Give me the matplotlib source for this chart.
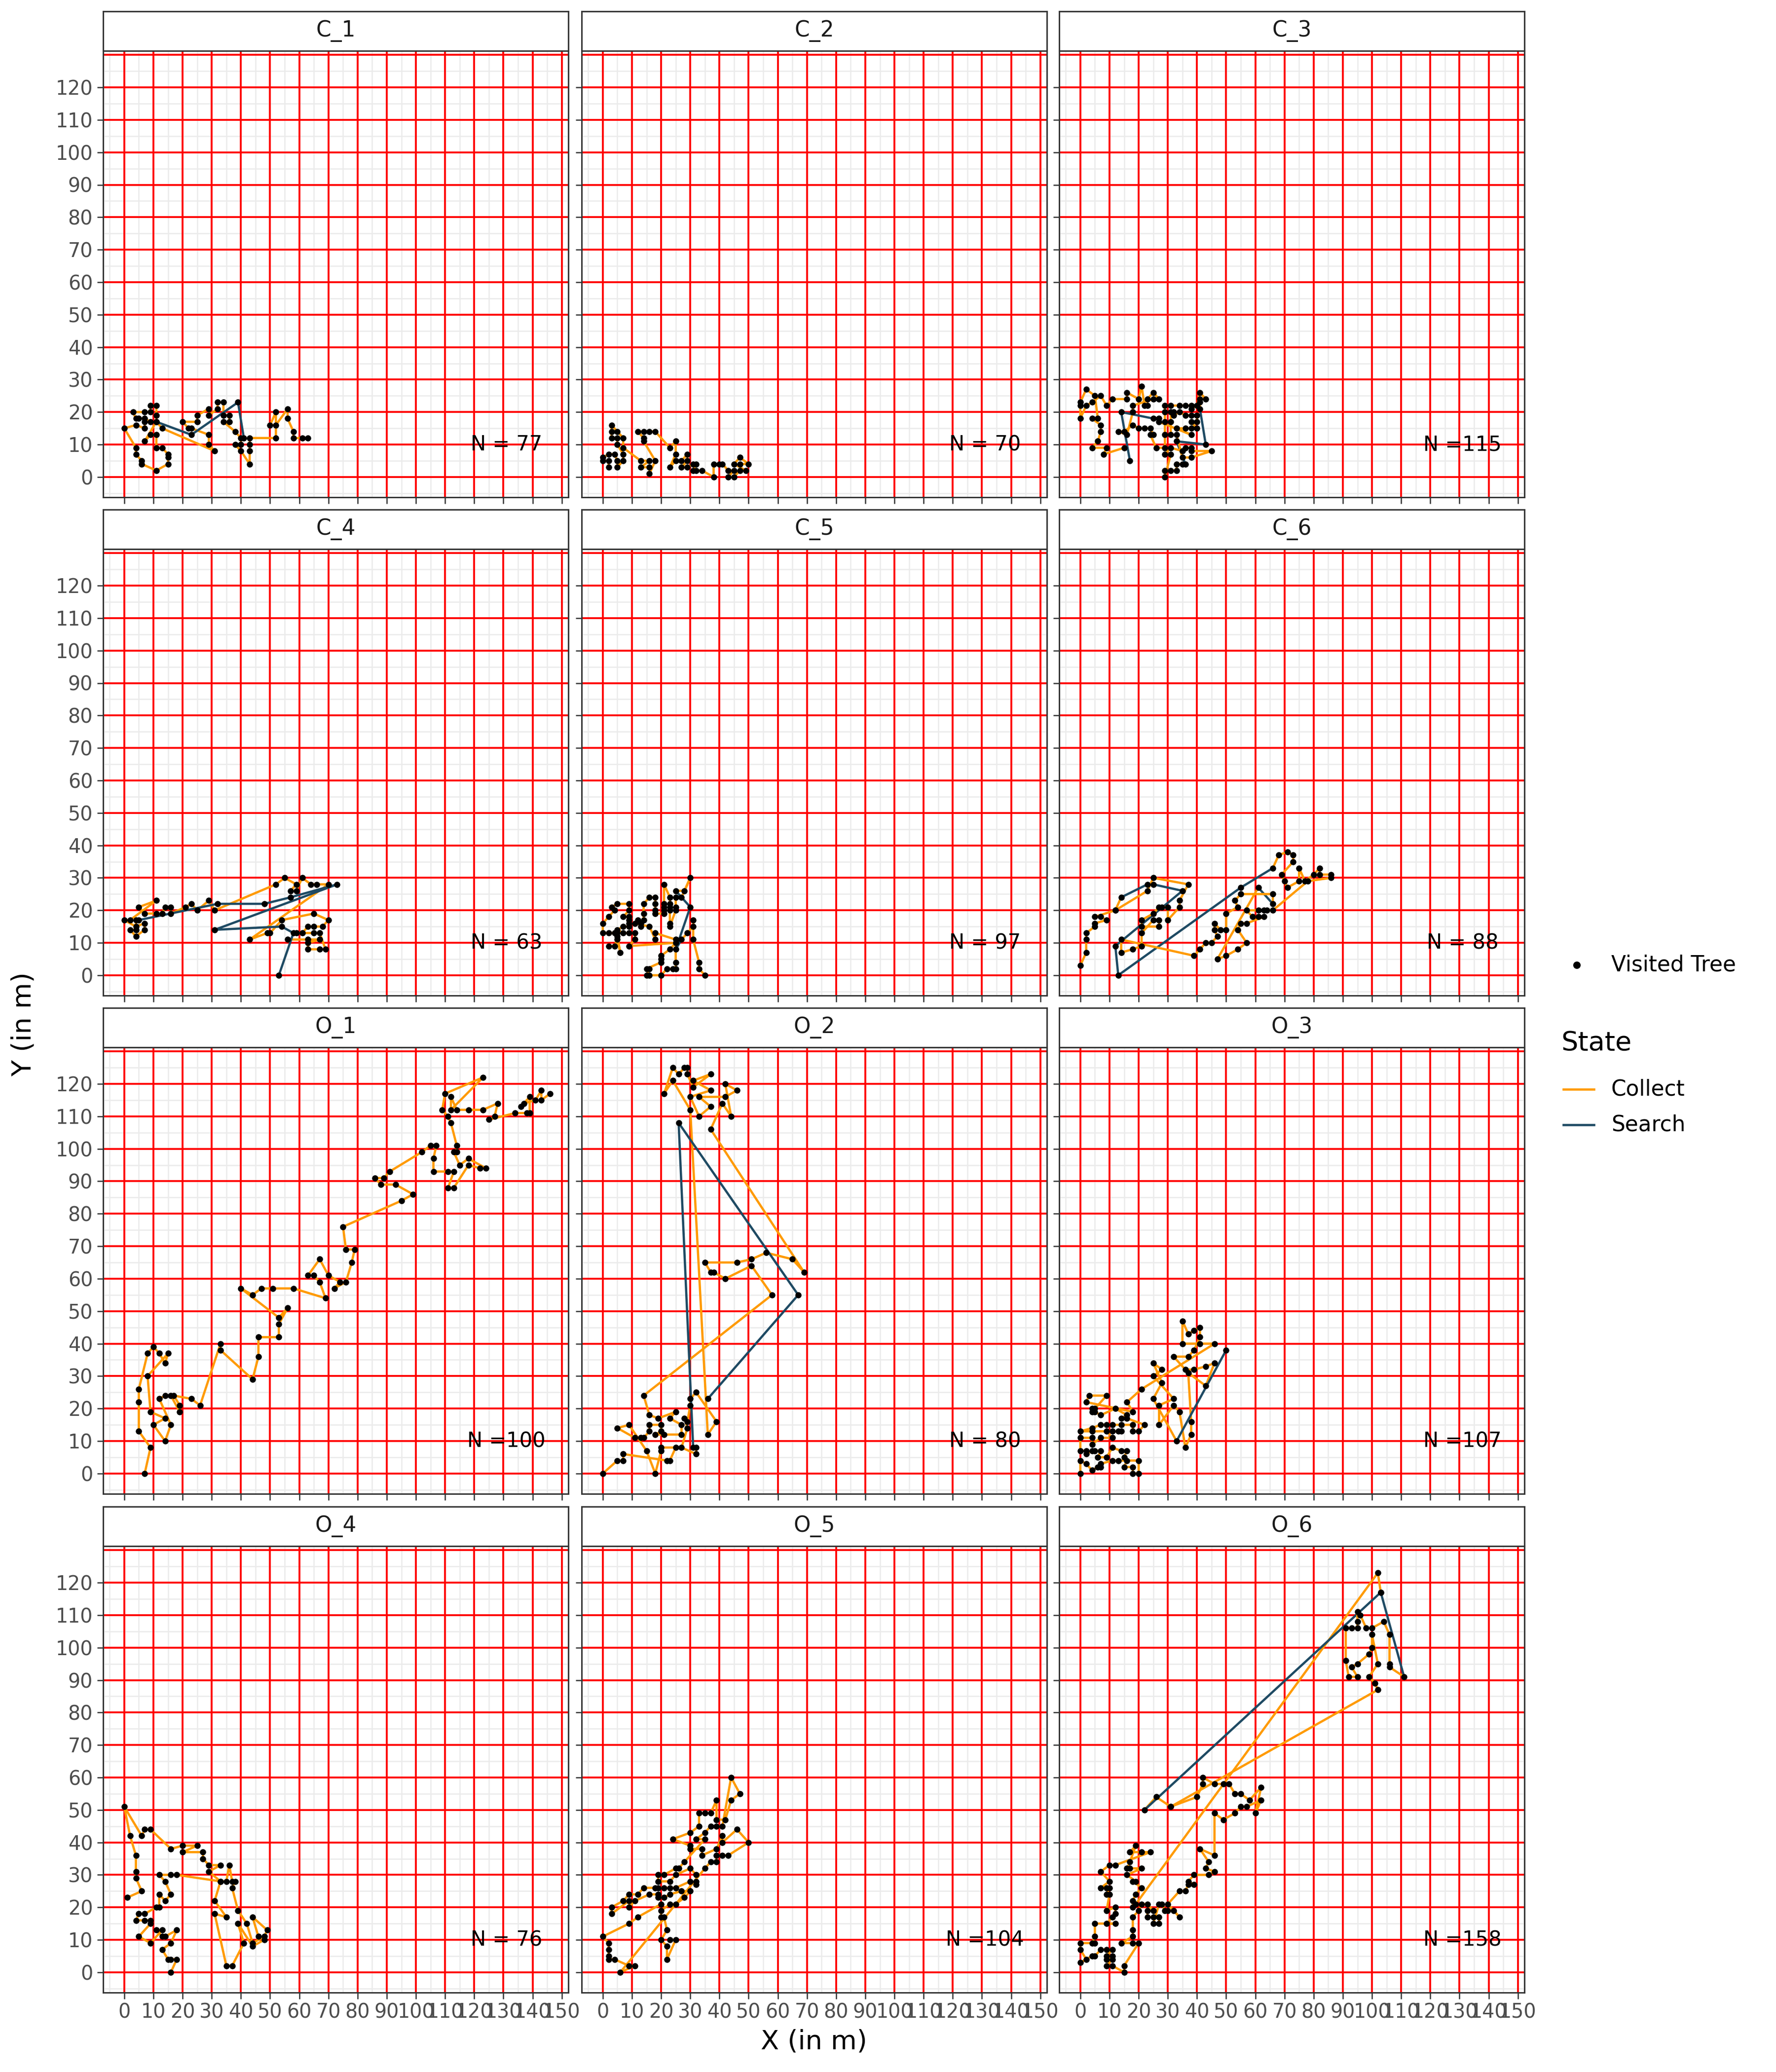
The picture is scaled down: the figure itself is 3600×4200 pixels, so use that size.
import matplotlib
matplotlib.use("Agg")
import matplotlib.pyplot as plt
from matplotlib.patches import Rectangle
from matplotlib.lines import Line2D
import numpy as np

plt.rcParams['font.family'] = ['DejaVu Sans']

# ---------------- data: visited trees in visiting order (x, y[, 'S' = search step]) -------------
C1 = [(63,12),(61,12),(58,12),(58,14),(56,18),(56,21),(52,16),(50,16),(52,20),(52,12),(43,12),(43,10),
      (43,8),(43,4),(40,8),(38,10),(40,10),(40,12),(38,14),(34,17),(36,17),(36,19),(34,19),(34,23),(32,23),
      (32,21),(29,19),(29,21),(25,19),(25,17),(20,17),(22,15),(23,15),(29,13),(29,10),(31,8),(13,15),(11,17),
      (7,11),(9,13),(11,13),(11,9),(13,9),(15,7),(15,6),(15,4),(11,2),(6,4),(6,5),(4,7),(4,9),(0,15),(4,16),
      (7,15),(7,17),(9,17),(7,18),(5,18),(4,18),(3,20),(7,20),(9,20),(9,22),(11,22),(11,19),
      (11,17,'S'),(23,13,'S'),(39,23,'S'),(41,12)]

C2 = [(2,3),(2,5),(0,5),(0,6),(2,7),(4,7),(5,5),(5,3),(7,5),(7,7),(5,10),(5,12),(3,12),(3,14),(3,16),(5,14),
      (7,12),(7,9),(13,5),(16,5),(13,3),(16,3),(16,1),(18,5),(14,11),(14,12),(12,14),(14,14),(16,14),(18,14),
      (23,9),(25,11),(25,7),(23,3),(25,5),(27,5),(29,7),(29,5),(27,3),(29,3),(31,4),(32,4),(31,2),(32,2),(34,2),
      (38,0),(38,4),(40,4),(41,4),(43,2),(45,2),(43,0),(45,0),(47,2),(49,2),(45,4),(47,6),(50,4),(47,4)]

C3 = [(15,9),(8,7),(9,9),(4,9),(6,11),(7,14),(7,16),(4,18),(6,18),(5,25),(2,27),(0,23),(0,22),(0,18),(2,22),
      (4,23),(7,25),(9,22),(11,24),(16,24),(16,26),(20,24),(21,28),(22,22),(23,22),(23,24),(25,26),(27,24),
      (25,24),(18,22),(18,20),(16,13),(13,14),(15,14),(18,16),(20,15),(22,15),(24,15),(25,13),(24,13),(26,9),
      (29,9),(29,13),(29,17),(29,20),(29,22),(31,22),(34,22),(36,22),(38,22),(38,21),(40,22),(41,26),(43,24),
      (41,24),(41,23),(41,21,'S'),(43,10,'S'),(33,11,'S'),(36,4),(35,4),(33,4),(33,2),(31,2),(29,2),(29,0),
      (31,7),(29,7),(31,9),(35,8),(36,9),(38,9),(38,8),(45,8),(38,6),(35,6),(33,13),(31,13),(31,17),(31,20),
      (32,20),(32,19),(34,20),(36,19),(38,19),(40,19),(40,17),(38,17),(40,15),(38,15),(36,15),(33,15),(38,13),
      (27,17),(27,18,'S'),(25,18,'S'),(14,20,'S'),(17,5)]

C4 = [(56,11),(63,11),(67,11),(63,10),(63,8),(67,8),(69,8),(67,13),(65,13),(59,13),(61,13),(63,15),(65,15),
      (68,15),(70,17),(65,19),(54,17),(50,13),(49,13),(43,11),(70,28),(66,28),(64,28),(61,30),(59,26),(57,26),
      (59,28),(55,30),(52,28),(31,20),(29,23),(25,20),(23,22),(21,21),(16,19),(16,21),(14,21),(13,19),(11,19),
      (7,19),(5,21),(11,23),(2,17),(0,17),(4,15),(7,16),(7,14),(4,12),(2,14),(4,14),(4,17),
      (5,17,'S'),(32,22,'S'),(48,22,'S'),(57,24,'S'),(73,28,'S'),(31,14,'S'),(54,15,'S'),(58,13,'S'),(53,0)]

C5 = [(2,9),(4,9),(5,11),(6,7),(5,12),(5,13),(4,13),(2,13),(0,13),(0,16),(2,18),(4,20),(3,21),(5,22),(9,22),
      (9,20),(7,18),(9,18),(9,17),(9,16),(9,15),(7,15),(5,14),(7,13),(9,13),(11,13),(11,11),(9,9),(25,10),
      (23,8),(20,6),(20,5),(20,4),(15,2),(16,2),(15,0),(16,0),(20,0),(22,2),(24,2),(25,2),(25,4),(25,11),
      (18,13),(18,11),(16,15),(11,16),(12,17),(13,16),(13,15),(14,17),(14,19),(14,22),(16,24),(18,24),(18,22),
      (18,20),(18,19),(21,19),(21,20),(21,21),(21,22),(21,28),(23,24),(23,22),(23,21),(23,20),(23,16),(23,15),
      (25,20),(25,21),(25,24),(27,24),(30,30),(28,26),(25,26,'S'),(30,21,'S'),(25,8,'S'),(27,11),(29,13),
      (31,15),(31,17),(31,11),(33,4),(33,2),(35,0)]

C6 = [(0,3),(2,7),(2,11),(2,13),(5,15),(5,16),(9,17),(7,18),(5,18),(12,20),(14,24,'S'),(23,28,'S'),
      (25,28,'S'),(35,26,'S'),(12,9,'S'),(13,0,'S'),(55,27,'S'),(66,33),(68,37),(71,38),(73,37),(73,35),
      (69,31),(70,29),(71,27),(75,29),(75,33),(77,29),(80,31),(82,33),(82,31),(86,31),(86,30),(78,29),(66,20),
      (64,20),(63,20),(61,20),(57,20),(59,18),(61,18),(63,18),(57,16),(55,16),(54,14),(57,10),(54,8),(50,6),
      (47,5),(61,27,'S'),(66,22),(66,25),(55,25),(53,23),(54,21),(50,19),(50,14),(48,14),(46,16),(46,14),
      (47,12),(45,10),(43,10),(41,8),(39,6),(14,11),(14,7),(18,8),(21,9),(21,13),(25,17),(27,17),(27,15),
      (21,15),(21,17),(25,19),(27,21),(28,21),(30,21),(30,17),(34,21),(34,23),(37,28),(25,30),(23,26),(12,20)]

O1 = [(7,0),(9,8),(5,13),(5,22),(5,26),(8,37),(10,39),(12,37),(14,34),(15,37),(8,30),(9,19),(14,17),(10,15),
      (14,10),(16,15),(12,23),(14,24),(16,24),(19,19),(19,21),(17,24),(23,23),(26,21),(33,40),(33,38),(44,29),
      (46,36),(46,42),(53,42),(53,46),(56,51),(53,48),(40,57),(44,55),(47,57),(51,57),(58,57),(69,54),(67,59),
      (65,61),(63,61),(67,66),(70,61),(74,59),(72,57),(76,59),(78,65),(79,69),(76,69),(75,76),(95,84),(99,86),
      (93,89),(88,89),(86,91),(89,91),(91,93),(102,99),(105,101),(107,101),(106,97),(106,93),(111,93),(113,93),
      (111,88),(113,88),(118,95),(122,94),(124,94),(118,97),(115,95),(113,99),(114,99),(114,101),(112,108),
      (111,110),(109,112),(110,117),(123,122),(112,112),(112,116),(114,112),(118,112),(123,112),(128,114),
      (127,110),(125,109),(134,111),(138,111),(139,111),(139,116),(136,113),(137,114),(141,115),(143,118),
      (143,115),(146,117)]

O2 = [(0,0),(5,4),(7,4),(7,6),(22,4),(23,4),(25,8),(20,8),(20,7),(18,0),(15,7),(9,15),(5,14),(11,11),(13,11),
      (14,11),(16,13),(16,15),(20,15),(20,13),(18,12),(21,12),(27,12),(27,15),(23,17),(25,19),(19,17),(16,18),
      (14,24),(58,55),(51,64),(42,60),(38,62),(37,62),(35,65),(46,65),(51,66),(56,68),(65,66),(69,62),(37,106),
      (41,114),(44,110),(42,120),(46,118),(42,116),(33,116),(37,113),(33,110),(30,116),(37,118),(31,121),
      (37,123),(31,119),(29,123),(29,125),(28,125),(26,123),(24,125),(21,117),(24,121),(30,112),(36,12),
      (39,16),(32,25),(30,23),(30,21),(29,16),(28,17),(29,14),(27,8),(32,6),(32,8),
      (31,8,'S'),(26,108,'S'),(67,55,'S'),(36,23)]

O3 = [(0,0),(0,4),(2,3),(4,1),(6,2),(7,2),(7,3),(11,4),(13,4),(20,4),(20,0),(18,0),(18,2),(15,2),(16,4),
      (15,5),(16,7),(14,7),(11,8),(9,5),(6,5),(7,7),(5,7),(4,7),(2,6),(2,7),(0,7),(0,11),(4,11),(4,9),(7,11),
      (11,11),(9,13),(11,13),(14,13),(13,13),(4,13),(0,13),(4,14),(7,15),(9,15),(11,15),(14,15),(18,15),
      (18,13),(20,13),(22,15),(16,17),(14,17),(16,18),(12,20),(7,18),(5,19),(4,19),(4,20),(5,20),(9,24),
      (3,24),(2,22),(18,19),(16,22),(21,26),(46,40),(41,40),(35,40),(35,47),(37,43),(39,44),(41,45),(41,42),
      (39,38),(37,36),(32,36),(36,32),(39,32),(43,33),(46,34),(43,27),(37,31),(38,16),(38,12),(36,8),(34,19),
      (32,21),(27,15),(27,21),(32,23),(25,30),(28,32),(25,34),(28,28),(25,23),(33,10,'S'),(50,38)]

O4 = [(1,23),(6,25),(4,29),(4,31),(4,36),(2,42),(0,51),(6,42),(7,44),(9,44),(16,38),(20,39),(25,39),(20,37),
      (27,37),(27,35),(29,33),(33,33),(29,31),(33,28),(35,28),(36,33),(37,28),(38,28),(37,26),(39,19),(42,15),
      (44,9),(48,11),(49,13),(44,17),(46,11),(48,10),(44,8),(39,15),(41,9),(37,2),(35,2),(31,18),(35,17),
      (31,22),(33,28),(18,30),(16,30),(12,30),(14,28),(16,24),(14,22),(12,24),(12,20),(11,20),(7,18),(5,18),
      (4,16),(7,16),(9,16),(9,15),(5,11),(9,9),(13,13),(11,13),(13,11),(14,11),(18,13),(16,9),(13,7),(15,4),
      (16,4),(18,4),(16,0)]

O5 = [(20,21),(12,17),(9,15),(0,11),(2,9),(2,7),(2,5),(2,4),(4,4),(9,2),(11,2),(6,0),(35,32),(37,34),(39,34),
      (39,36),(41,36),(43,36),(50,40),(46,44),(41,40),(41,42),(39,38),(34,36),(34,38),(30,38),(30,39),(24,41),
      (30,43),(33,45),(33,49),(35,49),(37,49),(39,53),(39,47),(42,47),(44,53),(47,55),(44,60),(41,45),(39,45),
      (37,45),(35,43),(32,41),(35,41),(28,34),(26,32),(25,32),(21,30),(19,30),(19,28),(23,28),(25,30),(30,32),
      (32,30),(32,28),(32,27),(30,28),(25,26),(23,26),(21,26),(19,26),(18,26),(14,26),(12,24),(9,24),(7,22),
      (3,20),(3,18),(9,22),(9,20),(11,22),(16,24),(19,24),(19,23),(21,23),(23,24),(27,25),(30,25),(28,23),
      (25,21),(23,21),(20,19),(20,17),(21,17),(22,13),(20,10),(22,8),(22,4),(25,10),(23,10)]

O6 = [(103,117),(102,123),(19,21),(18,20),(18,22),(19,24),(21,26),(18,28),(19,28),(16,30),(21,32),(17,32),
      (16,32),(17,34),(19,39),(17,37),(21,37),(24,37),(12,33),(10,33),(7,31),(10,28),(7,26),(9,26),(10,26),
      (9,24),(10,24),(9,19),(12,20),(12,18),(11,17),(9,15),(12,15),(5,15),(5,11),(4,9),(5,9),(0,9),(0,7),(2,4),
      (0,3),(4,5),(5,5),(7,7),(9,7),(11,7),(9,5),(11,5),(9,4),(11,4),(9,2),(11,2),(15,0),(15,2),(20,9),(18,9),
      (14,9),(18,11),(18,13),(18,17),(20,19),(21,21),(23,21),(25,19),(23,19),(23,17),(25,17),(27,17),(27,15),
      (25,15),(27,21),(28,21),(29,19),(30,19),(32,19),(34,17),(30,21),(34,25),(36,25),(37,27),(39,27),(37,28),
      (39,30),(44,30),(46,31),(43,32),(44,34),(41,38),(46,36),(46,49),(49,47),(53,49),(55,51),(57,51),(62,53),
      (60,49),(62,57),(58,53),(55,55),(53,55),(51,58),(49,58),(46,58),(42,60),(42,58),(40,54),(31,51),(26,54),
      (22,50,'S'),(103,117,'S'),(111,91),(106,94),(106,95),(106,104),(104,108),(100,106),(98,106),(96,110),
      (95,111),(95,108),(95,106),(93,106),(91,106),(91,96),(92,91),(95,91),(93,94),(95,95),(99,98),(100,100),
      (100,104),(102,95),(99,91),(101,89),(102,87),(31,51)]

PANEL_NAMES = ["C_1", "C_2", "C_3", "C_4", "C_5", "C_6", "O_1", "O_2", "O_3", "O_4", "O_5", "O_6"]
PANEL_PATHS = [C1, C2, C3, C4, C5, C6, O1, O2, O3, O4, O5, O6]
N_TREES = [77, 70, 115, 63, 97, 88, 100, 80, 107, 76, 104, 158]

X_TICKS = list(range(0, 151, 10))
Y_TICKS = list(range(0, 121, 10))

# ---------------- style ----------------
COLLECT = '#FF9A00'
SEARCH = '#1E4A63'
RED = '#FF0000'
MINOR = '#EBEBEB'
FRAME = '#333333'
TICKTXT = '#4D4D4D'

W, H = 3600, 4200
fig = plt.figure(figsize=(12, 14), dpi=300)
fig.patch.set_facecolor('white')

col_left = [209, 1179, 2147]
plot_w = 943
row_top = [103, 1113, 2123, 3134]
plot_h = 905
strip_h = 80

XLIM = (-7.25, 152.25)
YLIM = (-6.25, 131.25)


def draw_panel(ax, pts, name, n):
    xs = np.array([p[0] for p in pts], dtype=float)
    ys = np.array([p[1] for p in pts], dtype=float)
    st = ['S' if (len(p) > 2 and p[2] == 'S') else 'C' for p in pts]

    ax.set_xlim(*XLIM)
    ax.set_ylim(*YLIM)
    # minor grid
    for v in np.arange(-5, 156, 10):
        ax.axvline(v, color=MINOR, lw=0.6, zorder=0.5)
    for v in np.arange(-5, 135, 10):
        ax.axhline(v, color=MINOR, lw=0.6, zorder=0.5)
    # red reference grid
    for v in range(0, 151, 10):
        ax.axvline(v, color=RED, lw=0.9, zorder=1)
    for v in range(0, 131, 10):
        ax.axhline(v, color=RED, lw=0.9, zorder=1)

    # path segments coloured by state of the step start
    i = 0
    nseg = len(pts) - 1
    while i < nseg:
        j = i
        while j + 1 < nseg and st[j + 1] == st[i]:
            j += 1
        col = SEARCH if st[i] == 'S' else COLLECT
        ax.plot(xs[i:j + 2], ys[i:j + 2], color=col, lw=1.1, zorder=2,
                solid_joinstyle='round', solid_capstyle='round')
        i = j + 1
    ax.scatter(xs, ys, s=9, color='black', linewidths=0, zorder=3)

    ax.text(131, 10, "N =%3d" % n, ha='center', va='center', fontsize=10, color='black', zorder=4)

    ax.set_xticks(X_TICKS)
    ax.set_yticks(Y_TICKS)
    ax.tick_params(axis='both', length=3, width=0.6, color=FRAME, labelsize=9.5,
                   labelcolor=TICKTXT, pad=2)
    for s in ax.spines.values():
        s.set_color(FRAME)
        s.set_linewidth(0.7)
        s.set_zorder(5)


for k, (name, pts, n) in enumerate(zip(PANEL_NAMES, PANEL_PATHS, N_TREES)):
    r, c = divmod(k, 3)
    L = col_left[c]
    T = row_top[r]
    ax = fig.add_axes([L / W, 1 - (T + plot_h) / H, plot_w / W, plot_h / H])
    draw_panel(ax, pts, name, n)
    if c != 0:
        ax.tick_params(axis='y', labelleft=False)
    if r != 3:
        ax.tick_params(axis='x', labelbottom=False)
    # strip
    sax = fig.add_axes([L / W, 1 - T / H, plot_w / W, strip_h / H])
    sax.set_xlim(0, 1)
    sax.set_ylim(0, 1)
    sax.add_patch(Rectangle((0, 0), 1, 1, facecolor='white', edgecolor='none'))
    for s in sax.spines.values():
        s.set_color(FRAME)
        s.set_linewidth(0.7)
    sax.set_xticks([])
    sax.set_yticks([])
    sax.text(0.5, 0.5, name, ha='center', va='center', fontsize=10.5, color='#1A1A1A')

# axis titles
fig.text(1650 / W, 1 - 4139 / H, "X (in m)", ha='center', va='center', fontsize=13)
fig.text(48 / W, 1 - 2076 / H, "Y (in m)", ha='center', va='center', fontsize=13, rotation=90)

# legends (manual)
fig.add_artist(Line2D([3196 / W], [1 - 1956 / H], marker='o', color='black', markersize=2.6,
                      linestyle='none', transform=fig.transFigure))
fig.text(3266 / W, 1 - 1956 / H, "Visited Tree", ha='left', va='center', fontsize=10.5)
fig.text(3164 / W, 1 - 2114 / H, "State", ha='left', va='center', fontsize=13)
fig.add_artist(Line2D([3169 / W, 3231 / W], [1 - 2208 / H, 1 - 2208 / H], color=COLLECT, lw=1.1,
                      transform=fig.transFigure))
fig.text(3266 / W, 1 - 2208 / H, "Collect", ha='left', va='center', fontsize=10.5)
fig.add_artist(Line2D([3169 / W, 3231 / W], [1 - 2280 / H, 1 - 2280 / H], color=SEARCH, lw=1.1,
                      transform=fig.transFigure))
fig.text(3266 / W, 1 - 2280 / H, "Search", ha='left', va='center', fontsize=10.5)

fig.savefig("out.png", dpi=300, facecolor='white')
